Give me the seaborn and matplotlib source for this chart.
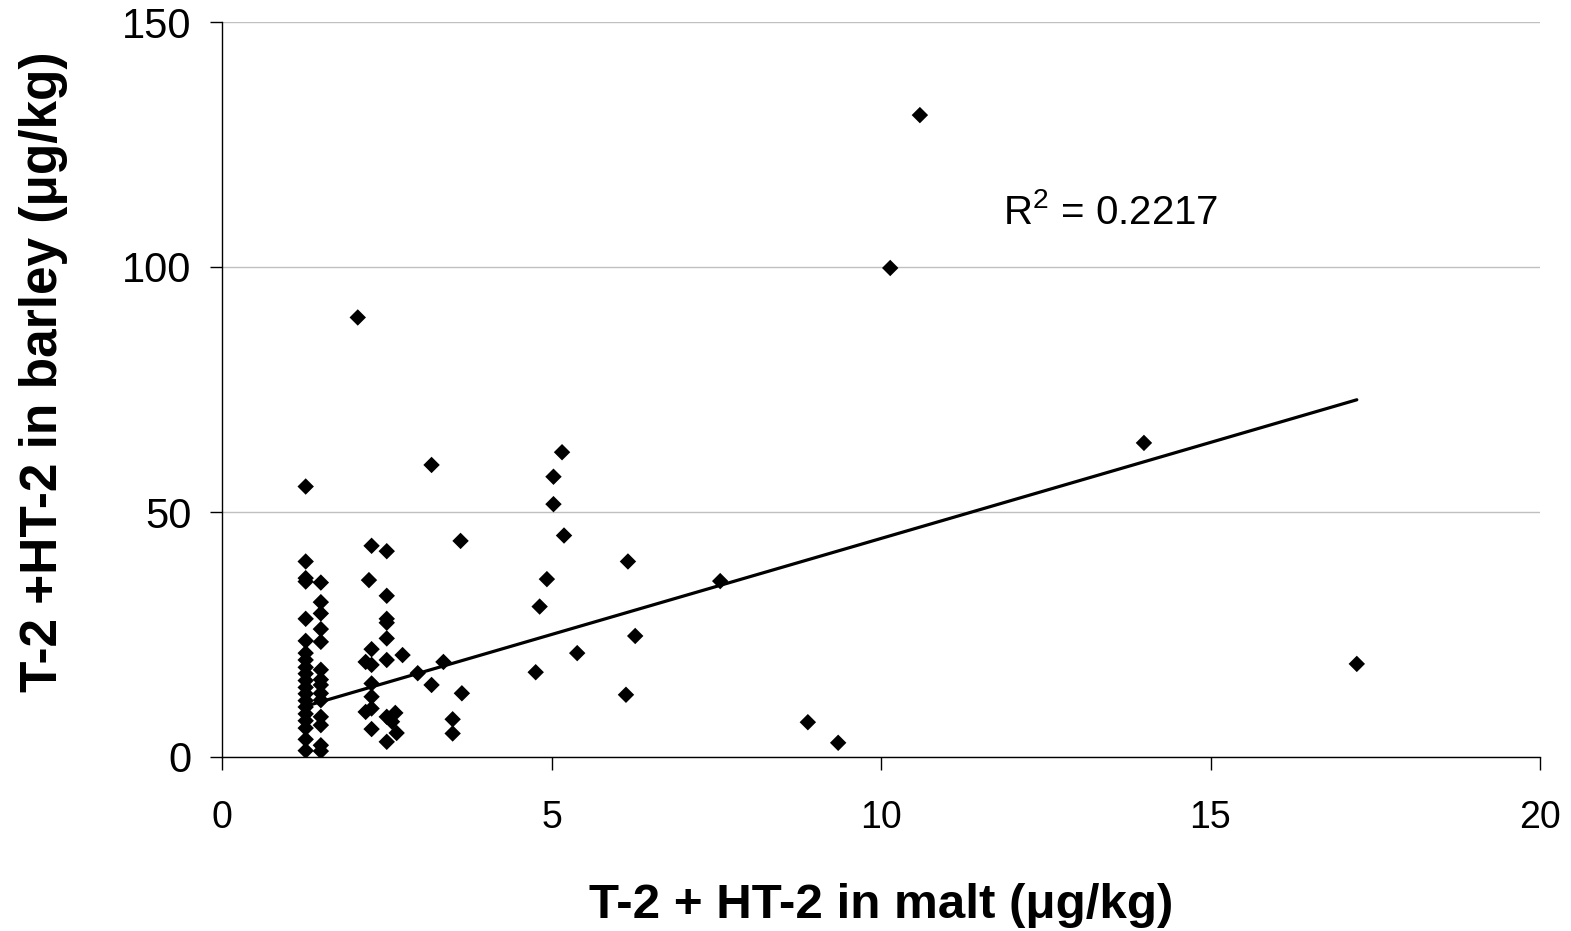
import numpy as np
import pandas as pd
import matplotlib
matplotlib.use('Agg')
import matplotlib.pyplot as plt
import seaborn as sns

# T-2 + HT-2 in malt (x) and in barley (y), ug/kg
malt = [1.27] * 20 + [1.5] * 14 + [
    2.27, 2.23, 2.27, 2.18, 2.27, 2.27, 2.27, 2.27, 2.18, 2.27,
    2.5, 2.5, 2.5, 2.5, 2.5, 2.5, 2.5, 2.58, 2.5, 2.63, 2.65,
    2.74, 2.97, 3.18, 3.36, 3.5, 3.5, 3.64, 3.62, 3.18, 2.06,
    5.16, 5.03, 5.03, 5.19, 6.16, 4.93, 4.82, 6.27, 5.39, 4.76, 6.13,
    7.56, 8.89, 9.35, 10.14, 10.59, 13.99, 17.22]
barley = [55.2, 39.9, 36.5, 35.8, 28.2, 23.7, 21.2, 19.8, 18.3, 17.0,
          15.6, 14.2, 12.9, 11.5, 10.2, 8.8, 7.4, 5.9, 3.6, 1.3] + \
         [35.6, 31.6, 29.3, 26.1, 23.5, 17.8, 15.8, 14.7, 13.0, 11.6,
          8.2, 6.5, 2.4, 1.2] + [
    43.1, 36.1, 22.0, 19.4, 18.8, 15.0, 12.3, 9.9, 9.2, 5.7,
    42.0, 32.9, 28.2, 27.4, 24.2, 19.8, 8.2, 7.2, 3.1, 9.0, 4.9,
    20.8, 17.1, 14.7, 19.4, 7.7, 4.8, 13.0, 44.1, 59.6, 89.7,
    62.2, 57.2, 51.6, 45.2, 39.9, 36.3, 30.7, 24.7, 21.2, 17.3, 12.7,
    35.9, 7.1, 2.9, 99.8, 131.0, 64.1, 19.0]

# linear trendline as drawn in the figure (slope, intercept)
trend_slope = 3.92
trend_intercept = 5.4
r2_text = 'R$^2$ = 0.2217'

x_ticks = [0, 5, 10, 15, 20]
y_ticks = [0, 50, 100, 150]

df = pd.DataFrame({'malt': malt, 'barley': barley})
trend_x = np.array([min(malt), max(malt)])
trend = pd.DataFrame({'malt': trend_x, 'barley': trend_slope * trend_x + trend_intercept})

sns.set_style('white')
plt.rcParams['font.family'] = ['Liberation Sans', 'DejaVu Sans']
plt.rcParams['mathtext.fontset'] = 'custom'
plt.rcParams['mathtext.rm'] = 'Liberation Sans'
plt.rcParams['text.color'] = 'black'
plt.rcParams['axes.labelcolor'] = 'black'

fig = plt.figure(figsize=(15.71, 9.31), dpi=100)
ax = fig.add_axes([222 / 1571, 1 - 757 / 931, (1540 - 222) / 1571, (757 - 22) / 931])

sns.lineplot(data=trend, x='malt', y='barley', color='black', lw=2.3, ax=ax)
sns.scatterplot(data=df, x='malt', y='barley', marker='D', s=70, color='black',
                edgecolor='none', ax=ax, zorder=3)

ax.set_xlim(0, 20)
ax.set_ylim(0, 150)
ax.set_xticks(x_ticks)
ax.set_yticks(y_ticks)
ax.yaxis.grid(True, color='#c0c0c0', lw=1)
ax.set_axisbelow(True)
for s in ['top', 'right']:
    ax.spines[s].set_visible(False)
for s in ['left', 'bottom']:
    ax.spines[s].set_color('black')
    ax.spines[s].set_linewidth(1)
ax.tick_params(axis='both', direction='out', length=9, width=1, colors='black',
               bottom=True, left=True)
ax.tick_params(axis='x', pad=22, labelsize=27)
ax.tick_params(axis='y', pad=13, labelsize=30)

ax.set_xlabel('T-2 + HT-2 in malt (μg/kg)', fontsize=35.5, fontweight='bold', labelpad=34)
ax.set_ylabel('T-2 +HT-2 in barley (μg/kg)', fontsize=37, fontweight='bold')
ax.yaxis.set_label_coords(-0.117, 0.524)

ax.text(11.85, 108.8, r2_text, fontsize=29, ha='left', va='baseline')

fig.savefig('out.png', dpi=100)
